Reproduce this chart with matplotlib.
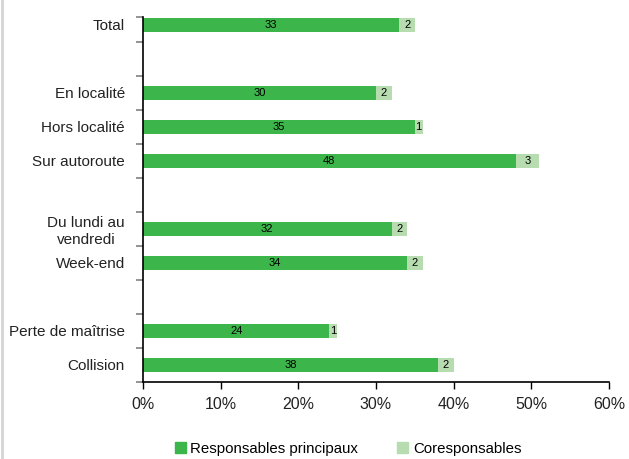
import numpy as np
import matplotlib.pyplot as plt
from matplotlib.lines import Line2D
from matplotlib.patches import Patch

plt.rcParams['font.family'] = ['Liberation Sans', 'DejaVu Sans']

labels = ['Total', '', 'En localité', 'Hors localité', 'Sur autoroute', '',
          'Du lundi au\nvendredi', 'Week-end', '', 'Perte de maîtrise', 'Collision']
principaux = [33, None, 30, 35, 48, None, 32, 34, None, 24, 38]
coresp = [2, None, 2, 1, 3, None, 2, 2, None, 1, 2]

dark = '#3cb54a'
light = '#b6dcb0'

fig = plt.figure(figsize=(6.29, 4.59), dpi=100)
ax = fig.add_axes([143 / 629, 1 - 382 / 459, (609 - 143) / 629, (382 - 17) / 459])

n = len(labels)
ypos = np.arange(n)[::-1]
for y, p, c in zip(ypos, principaux, coresp):
    if p is None:
        continue
    ax.barh(y, p, height=0.41, color=dark)
    ax.barh(y, c, left=p, height=0.41, color=light)
    ax.text(p / 2, y, str(p), ha='center', va='center', fontsize=8)
    ax.text(p + c / 2, y, str(c), ha='center', va='center', fontsize=8)

ax.set_xlim(0, 60)
ax.set_ylim(-0.5, n - 1 + 0.235)
ax.set_xticks(range(0, 61, 10))
ax.set_xticklabels([f'{v}%' for v in range(0, 61, 10)], fontsize=11.5, color='#222222')
ax.tick_params(axis='x', length=5, width=1, color='black', pad=6)

ax.set_yticks(ypos)
ax.set_yticklabels(labels, fontsize=11, color='#222222')
ax.tick_params(axis='y', which='major', length=0, pad=13)
for t in ax.get_yticklabels():
    if 'vendredi' in t.get_text():
        t.set_multialignment('center')
bounds = list(np.arange(n - 1) + 0.5) + [-0.5, n - 1 + 0.235]
ax.set_yticks(bounds, minor=True)
ax.tick_params(axis='y', which='minor', length=5, width=1.2, color='#808080')

for s in ['top', 'right']:
    ax.spines[s].set_visible(False)
ax.spines['left'].set_linewidth(1.2)
ax.spines['bottom'].set_linewidth(1.2)

handles = [Patch(color=dark, label='Responsables principaux'),
           Patch(color=light, label='Coresponsables')]
fig.legend(handles=handles, loc='center', bbox_to_anchor=(348 / 629, 1 - 449 / 459),
           ncol=2, frameon=False, fontsize=10.8, handlelength=0.75, handleheight=0.75,
           handletextpad=0.3, columnspacing=2.6, borderpad=0)

fig.add_artist(Line2D([2 / 629, 2 / 629], [0, 1], color='#d4d4d4', lw=2,
                      transform=fig.transFigure))

fig.savefig('out.png', dpi=100)
